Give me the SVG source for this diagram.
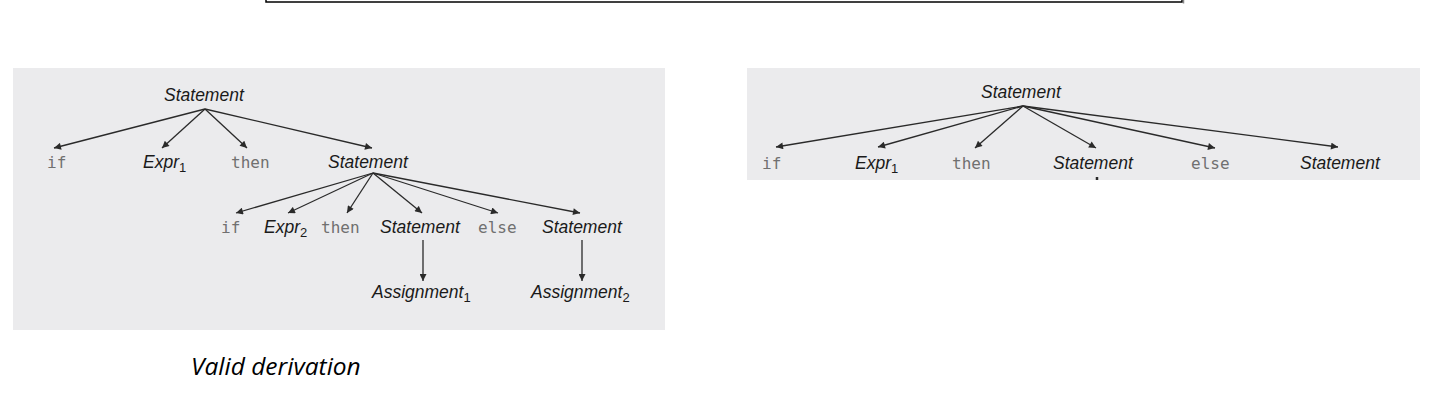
<svg xmlns="http://www.w3.org/2000/svg" width="1434" height="406" viewBox="0 0 1434 406">
<defs>
<marker id="ah" viewBox="0 0 10 10" refX="10" refY="5" markerWidth="9" markerHeight="7" markerUnits="userSpaceOnUse" orient="auto">
<path d="M0,0 L10,5 L0,10 z" fill="#2a2a2a"/>
</marker>
</defs>
<style>
.panel{fill:#ebebed}
.nt{font-family:"Liberation Sans",Arial,sans-serif;font-style:italic;font-size:17.5px;fill:#1a1a1a}
.sub{font-style:normal;font-size:13px}
.kw{font-family:"DejaVu Sans Mono","Liberation Mono",monospace;font-size:16px;fill:#707070}
.edge{stroke:#2a2a2a;stroke-width:1.3;fill:none;marker-end:url(#ah)}
.cap{font-family:"Open Sans",sans-serif;font-style:italic;font-size:24.5px;fill:#000}
</style>
<rect x="266" y="-20" width="916" height="22" fill="#fff" stroke="#000" stroke-width="1.5"/>
<line x1="1183.5" y1="-2" x2="1183.5" y2="3.5" stroke="#888" stroke-width="1.5"/>
<rect class="panel" x="13" y="68" width="652" height="262"/>
<rect class="panel" x="747" y="68" width="673" height="112"/>
<g id="connectors">
<line class="edge" x1="205" y1="109" x2="54" y2="148"/>
<line class="edge" x1="205" y1="109" x2="162" y2="148"/>
<line class="edge" x1="205" y1="109" x2="247" y2="148"/>
<line class="edge" x1="205" y1="109" x2="372" y2="148"/>
<line class="edge" x1="373" y1="173" x2="236" y2="213"/>
<line class="edge" x1="373" y1="173" x2="288" y2="213"/>
<line class="edge" x1="373" y1="173" x2="347" y2="213"/>
<line class="edge" x1="373" y1="173" x2="422" y2="213"/>
<line class="edge" x1="373" y1="173" x2="498" y2="213"/>
<line class="edge" x1="373" y1="173" x2="580" y2="213"/>
<line class="edge" x1="423" y1="240" x2="423" y2="281"/>
<line class="edge" x1="582" y1="240" x2="582" y2="281"/>
<line class="edge" x1="1023" y1="106" x2="776" y2="147"/>
<line class="edge" x1="1023" y1="106" x2="878" y2="147"/>
<line class="edge" x1="1023" y1="106" x2="975" y2="148"/>
<line class="edge" x1="1023" y1="106" x2="1096" y2="148"/>
<line class="edge" x1="1023" y1="106" x2="1215" y2="148"/>
<line class="edge" x1="1023" y1="106" x2="1338" y2="147"/>
<line x1="1097" y1="177" x2="1097" y2="180" stroke="#2a2a2a" stroke-width="2.5"/>
</g>
<g id="l-stmt"><text class="nt" x="164" y="101">Statement</text></g>
<g id="l-if1"><text class="kw" x="47" y="168">if</text></g>
<g id="l-expr1"><text class="nt" x="143" y="168">Expr<tspan class="sub" dy="4">1</tspan></text></g>
<g id="l-then1"><text class="kw" x="231" y="168">then</text></g>
<g id="l-stmt2"><text class="nt" x="328" y="168">Statement</text></g>
<g id="l-if2"><text class="kw" x="221" y="233">if</text></g>
<g id="l-expr2"><text class="nt" x="264" y="233">Expr<tspan class="sub" dy="4">2</tspan></text></g>
<g id="l-then2"><text class="kw" x="321" y="233">then</text></g>
<g id="l-stmt3"><text class="nt" x="380" y="233">Statement</text></g>
<g id="l-else"><text class="kw" x="478" y="233">else</text></g>
<g id="l-stmt4"><text class="nt" x="542" y="233">Statement</text></g>
<g id="l-assign1"><text class="nt" x="372" y="298">Assignment<tspan class="sub" dy="4">1</tspan></text></g>
<g id="l-assign2"><text class="nt" x="531" y="298">Assignment<tspan class="sub" dy="4">2</tspan></text></g>
<g id="r-stmt"><text class="nt" x="981" y="98">Statement</text></g>
<g id="r-if"><text class="kw" x="762" y="169">if</text></g>
<g id="r-expr1"><text class="nt" x="855" y="169">Expr<tspan class="sub" dy="4">1</tspan></text></g>
<g id="r-then"><text class="kw" x="952" y="169">then</text></g>
<g id="r-stmt2"><text class="nt" x="1053" y="169">Statement</text></g>
<g id="r-else"><text class="kw" x="1191" y="169">else</text></g>
<g id="r-stmt3"><text class="nt" x="1300" y="169">Statement</text></g>
<g id="caption"><text class="cap" x="191" y="375">Valid derivation</text></g>
</svg>
